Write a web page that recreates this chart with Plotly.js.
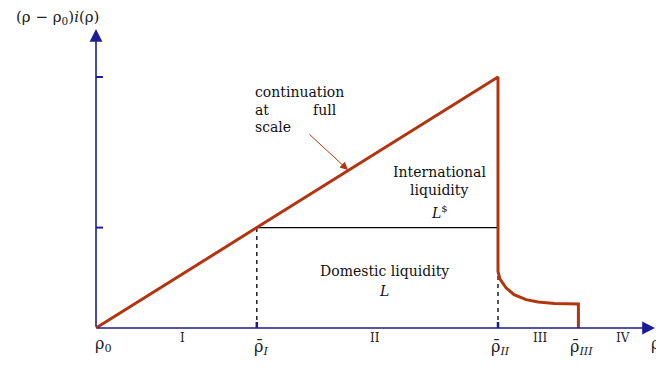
<!DOCTYPE html>
<html>
<head>
<meta charset="utf-8">
<script src="https://cdn.plot.ly/plotly-3.0.1.min.js"></script>
<style>
  html, body { margin: 0; padding: 0; background: #fff; }
  #chart { width: 656px; height: 369px; }
</style>
</head>
<body>
<div id="chart"></div>
<script>
// Threshold returns on the horizontal axis (rho0, rhoI, rhoII, rhoIII)
const rhoKnots = [0, 4, 10, 12];
const rhoLabels = ['ρ<sub>0</sub>', 'ρ̄<sub><i>I</i></sub>', 'ρ̄<sub><i>II</i></sub>', 'ρ̄<sub><i>III</i></sub>'];

// Region names placed between the thresholds
const regionX = [2.15, 6.95, 11.05, 13.1];
const regionNames = ['I', 'II', 'III', 'IV'];

// Payoff (rho - rho0) i(rho): linear up to rhoII, then collapses
const payoffX = [0, 10, 10, 10.05, 10.2, 10.4, 10.7, 11.0, 11.4, 11.8, 12, 12];
const payoffY = [0, 10, 2.25, 1.95, 1.6, 1.33, 1.13, 1.04, 0.98, 0.96, 0.96, 0];

// Domestic liquidity level (horizontal line from rhoI to rhoII)
const liquidityX = [4, 10];
const liquidityY = [4, 4];

// Vertical tick values on the payoff axis
const yTicks = [4, 10];

const navy = '#1c1c96';
const rust = '#b23510';
const serif = 'DejaVu Serif, Liberation Serif, serif';

// pixel -> data helpers for the fixed 656x369 frame
const X0 = 96, XS = 40.2, Y0 = 328, YS = 25.1;
const dx = p => (p - X0) / XS;
const dy = p => (Y0 - p) / YS;

const traces = [
  { x: liquidityX, y: liquidityY, mode: 'lines', line: { color: '#000', width: 1.3 }, hoverinfo: 'skip' },
  { x: [rhoKnots[1], rhoKnots[1]], y: [0, liquidityY[0]], mode: 'lines',
    line: { color: '#000', width: 1.3, dash: '4px,4px' }, hoverinfo: 'skip' },
  { x: [rhoKnots[2], rhoKnots[2]], y: [0, payoffY[2]], mode: 'lines',
    line: { color: '#000', width: 1.3, dash: '4px,4px' }, hoverinfo: 'skip' },
  { x: payoffX, y: payoffY, mode: 'lines', line: { color: rust, width: 3 }, hoverinfo: 'skip' }
];

const shapes = [];
// y axis ticks
yTicks.forEach(v => shapes.push({ type: 'line', x0: 0, x1: dx(103), y0: v, y1: v,
  line: { color: navy, width: 2 } }));
// x axis ticks at rhoI and rhoII
[rhoKnots[1], rhoKnots[2]].forEach(v => shapes.push({ type: 'line', x0: v, x1: v, y0: 0, y1: dy(322),
  line: { color: navy, width: 2.5 } }));

const ann = [];
// axes with arrowheads
ann.push({ x: 0, y: dy(29), ax: 0, ay: 0, axref: 'x', ayref: 'y', xref: 'x', yref: 'y', text: '',
  showarrow: true, arrowhead: 2, arrowsize: 1.6, arrowwidth: 1.6, arrowcolor: navy });
ann.push({ x: dx(655), y: 0, ax: 0, ay: 0, axref: 'x', ayref: 'y', xref: 'x', yref: 'y', text: '',
  showarrow: true, arrowhead: 2, arrowsize: 1.6, arrowwidth: 1.6, arrowcolor: navy });

// threshold labels
const labelShift = [7, 4, 2, 3];
rhoKnots.forEach((v, i) => ann.push({ x: v, y: dy(i === 0 ? 344 : 347), xref: 'x', yref: 'y',
  text: rhoLabels[i], showarrow: false, xshift: labelShift[i],
  font: { family: serif, size: 16, color: '#222' } }));
// region labels
regionNames.forEach((t, i) => ann.push({ x: regionX[i], y: dy(338), xref: 'x', yref: 'y',
  text: t, showarrow: false, font: { family: serif, size: 12, color: '#222' } }));
// rho at the end of the horizontal axis
ann.push({ x: dx(649), y: dy(343), xref: 'x', yref: 'y', text: 'ρ', showarrow: false,
  xanchor: 'left', font: { family: serif, size: 16, color: '#222' } });

// vertical axis title
ann.push({ x: dx(14), y: dy(17), xref: 'x', yref: 'y', xanchor: 'left', showarrow: false,
  text: '(ρ − ρ<sub>0</sub>)<i>i</i>(ρ)', font: { family: serif, size: 15, color: '#222' } });

// annotation text
const txt = (t, px, py, anchor) => ann.push({ x: dx(px), y: dy(py), xref: 'x', yref: 'y', text: t,
  showarrow: false, xanchor: anchor || 'left', font: { family: serif, size: 14, color: '#111' } });
txt('continuation', 253, 92);
txt('at', 253, 110);
txt('full', 311, 110);
txt('scale', 253, 127);
txt('International', 439, 172, 'center');
txt('liquidity', 439, 190, 'center');
txt('<i>L</i><sup>$</sup>', 439, 212, 'center');
txt('Domestic liquidity', 384, 271, 'center');
txt('<i>L</i>', 384, 291, 'center');

// pointer to the rising segment
ann.push({ x: dx(348), y: dy(170), ax: dx(308), ay: dy(133), axref: 'x', ayref: 'y', xref: 'x', yref: 'y',
  text: '', showarrow: true, arrowhead: 2, arrowsize: 1.6, arrowwidth: 1, arrowcolor: rust });

const layout = {
  width: 656, height: 369,
  margin: { l: 0, r: 0, t: 0, b: 0 },
  paper_bgcolor: '#fff', plot_bgcolor: '#fff',
  showlegend: false,
  xaxis: { range: [dx(0), dx(656)], visible: false, fixedrange: true },
  yaxis: { range: [dy(369), dy(0)], visible: false, fixedrange: true },
  shapes: shapes,
  annotations: ann
};

Plotly.newPlot('chart', traces, layout, { staticPlot: true, displayModeBar: false });
</script>
</body>
</html>
